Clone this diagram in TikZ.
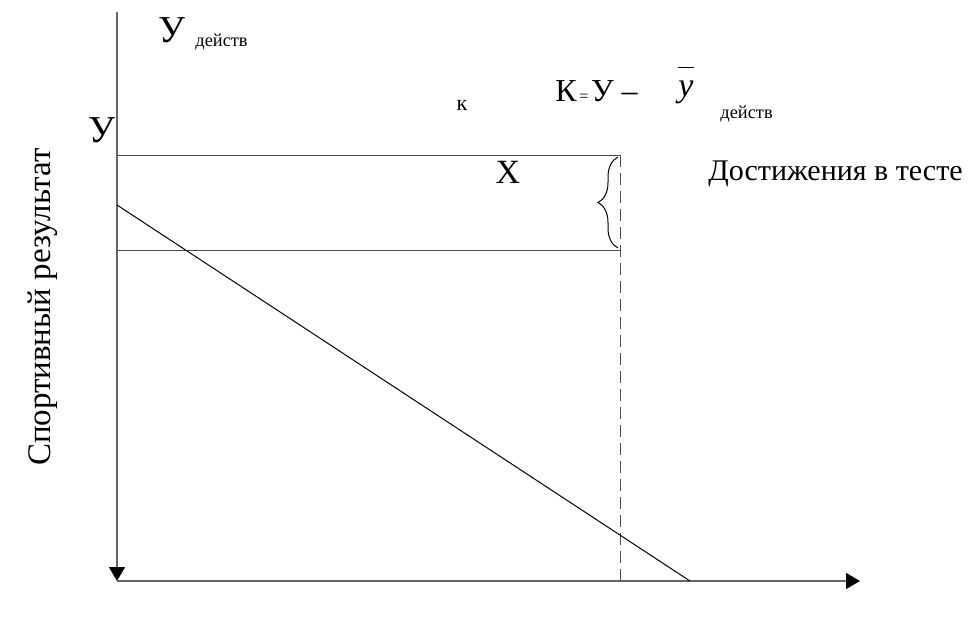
\documentclass[tikz,border=0pt]{standalone}
\usepackage{fontspec}
\setmainfont{Liberation Serif}
\usetikzlibrary{arrows.meta,decorations.pathreplacing}

\begin{document}
\begin{tikzpicture}[x=0.5pt,y=-0.5pt,
  axis/.style={draw=black!60,line width=0.6pt,-{Triangle[length=7pt,width=8pt,color=black]}},
  thin/.style={draw=black!70,line width=0.5pt},
  lbl/.style={inner sep=0pt,font=\fontsize{15}{17}\selectfont},
  big/.style={inner sep=0pt,font=\fontsize{19}{21}\selectfont},
  sub/.style={inner sep=0pt,font=\fontsize{9.2}{11}\selectfont}]
\useasboundingbox (0,0) rectangle (968,616);
% axes
\coordinate (top) at (117,12);
\coordinate (o) at (117,581);
\coordinate (xend) at (860,581);
\draw[axis] (top) -- (o);
\draw[axis] (o) -- (xend);
% levels of the result
\coordinate (ya) at (117,155);
\coordinate (yb) at (620,155);
\coordinate (za) at (117,250);
\coordinate (zb) at (620,250);
\coordinate (xd) at (620,581);
\draw[thin] (ya) -- (yb);
\draw[thin] (za) -- (zb);
\draw[thin,dashed,dash pattern=on 6pt off 3pt] (yb) -- (xd);
% regression line
\coordinate (ra) at (117,205);
\coordinate (rb) at (690,581);
\draw[line width=0.5pt] (ra) -- (rb);
% brace
\coordinate (ba) at (618,248);
\coordinate (bb) at (618,157);
\draw[line width=0.5pt,decorate,decoration={brace,amplitude=10pt}] (ba) -- (bb);
% labels
\node[big,anchor=base] (ytop) at (172,42) {У};
\node[sub,anchor=base west] (ytopsub) at (195,46) {действ};
\node[big,anchor=base] (yax) at (102,142) {У};
\node[inner sep=0pt,font=\fontsize{11}{12}\selectfont,anchor=base] (ksmall) at (462,110) {к};
\node[inner sep=0pt,font=\fontsize{16}{18}\selectfont,anchor=base west] (kform) at (555,101)
  {К{\fontsize{8}{9}\selectfont\,=\,}У –};
\node[inner sep=0pt,font=\fontsize{17}{19}\selectfont\itshape,anchor=base] (ybar) at (686,96)
  {\makebox[0pt][l]{\raisebox{14pt}{\rule{8pt}{0.5pt}}}y};
\node[sub,anchor=base west] (ybarsub) at (720,118) {действ};
\node[inner sep=0pt,font=\fontsize{17}{19}\selectfont] (xlbl) at (508,172) {X};
\node[lbl,anchor=base west] (test) at (708,180) {Достижения в тесте};
\node[inner sep=0pt,font=\fontsize{16.5}{18}\selectfont,rotate=90] (sport) at (43,307) {Спортивный результат};
\end{tikzpicture}
\end{document}
